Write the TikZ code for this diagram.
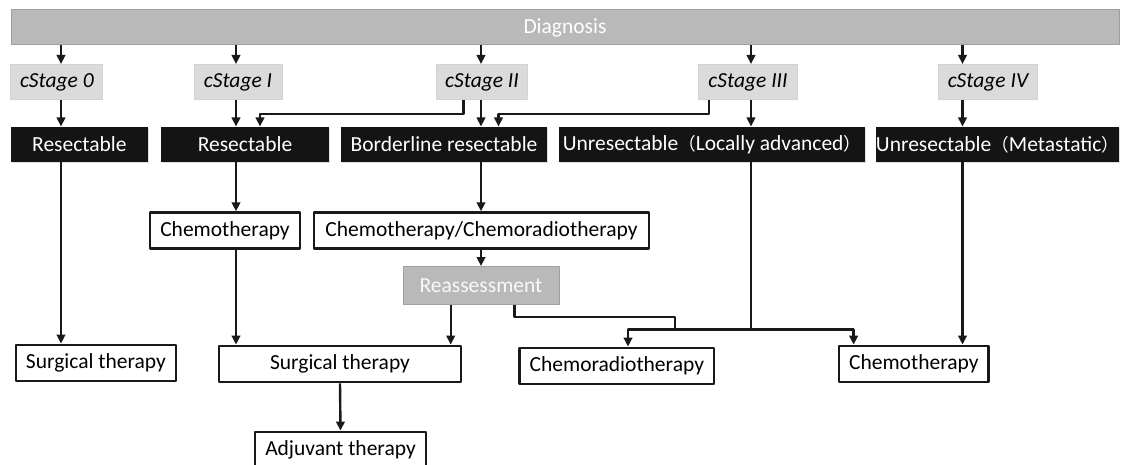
\documentclass[tikz,border=0pt]{standalone}
\usepackage{fontspec}
\setmainfont{Carlito}
\newfontfamily\cjk[Scale=0.82]{Noto Sans CJK JP}
\newcommand{\lpar}{{\cjk （}}
\newcommand{\rpar}{{\cjk ）}}
\usetikzlibrary{calc,arrows.meta,shadows}

\begin{document}
\begin{tikzpicture}[x=1pt,y=-1pt,>={Triangle[length=9pt,width=8.5pt]},line join=round,
  font=\fontsize{21.5}{25}\selectfont,
  bar/.style={draw=gray!75,fill=gray!55,text=white,line width=1pt,inner sep=0pt},
  stage/.style={draw=gray!35,fill=gray!28,line width=1pt,inner sep=0pt,minimum height=35pt,
    font=\fontsize{21.5}{25}\selectfont\itshape},
  blk/.style={fill=black!92,text=white,inner sep=0pt,minimum height=35.6pt,
    drop shadow={opacity=0.25,shadow xshift=1pt,shadow yshift=-1pt}},
  tbox/.style={draw=black!90,line width=2.8pt,fill=white,inner sep=0pt,minimum height=36pt},
  arr/.style={->,line width=2.4pt,black!90},
  link/.style={line width=2.4pt,black!90}]
  \useasboundingbox (0,0) rectangle (1121,465);

  % top bar and stages
  \node[bar,minimum width=1108pt,minimum height=35pt] (diag) at (565,27.5) {Diagnosis};
  \node[stage,minimum width=92pt]   (s0) at (56.9,82) {cStage 0};
  \node[stage,minimum width=88pt]   (s1) at (238,82) {cStage I};
  \node[stage,minimum width=90.5pt] (s2) at (482,82) {cStage II};
  \node[stage,minimum width=98.5pt] (s3) at (748,82) {cStage III};
  \node[stage,minimum width=99.5pt] (s4) at (988,82) {cStage IV};

  % resectability
  \node[blk,minimum width=137pt]   (r0)  at (79.4,144.5) {Resectable};
  \node[blk,minimum width=168pt]   (r1)  at (245,144.5) {Resectable};
  \node[blk,minimum width=206.5pt] (bl)  at (444,144.5) {Borderline resectable};
  \node[blk,minimum width=306pt]   (ula) at (712,144.5) {Unresectable\lpar Locally advanced\rpar};
  \node[blk,minimum width=241pt]   (um)  at (997.5,144.5) {Unresectable\lpar Metastatic\rpar};

  % treatment
  \node[tbox,minimum width=150pt] (ch1) at (225,230.7) {Chemotherapy};
  \node[tbox,minimum width=335pt] (ccr) at (481.5,230.7) {Chemotherapy/Chemoradiotherapy};
  \node[bar,minimum width=156pt,minimum height=37.5pt,text=white!95!gray] (re) at (481,285.3) {Reassessment};
  \node[tbox,minimum width=160pt]   (su0) at (95.9,363) {Surgical therapy};
  \node[tbox,minimum width=242pt]   (su1) at (340,364) {Surgical therapy};
  \node[tbox,minimum width=194.4pt] (crt) at (616.8,366) {Chemoradiotherapy};
  \node[tbox,minimum width=149.6pt] (chR) at (913.8,364) {Chemotherapy};
  \node[tbox,minimum width=171pt]   (adj) at (340.5,450) {Adjuvant therapy};

  % arrow columns
  \coordinate (c0) at (61,0);
  \coordinate (c1) at (236,0);
  \coordinate (c2) at (481,0);
  \coordinate (c3) at (751,0);
  \coordinate (c4) at (962.5,0);
  \coordinate (m1) at (450.7,0);
  \coordinate (k1) at (260,114);
  \coordinate (k2) at (463.5,114);
  \coordinate (k3) at (709,114);
  \coordinate (k4) at (498.5,114);
  \coordinate (rb) at (514.5,0);
  \coordinate (rj) at (675,316.7);
  \coordinate (j)  at (751,329.3);
  \coordinate (jl) at (628,0);
  \coordinate (jr) at (853.6,0);

  \foreach \s/\c in {s0/c0,s1/c1,s2/c2,s3/c3,s4/c4}
    \draw[arr] (diag.south -| \c) -- (\s.north -| \c);
  \draw[arr] (s0.south -| c0) -- (r0.north -| c0);
  \draw[arr] (s1.south -| c1) -- (r1.north -| c1);
  \draw[arr] (s2.south -| c2) -- (bl.north -| c2);
  \draw[arr] (s3.south -| c3) -- (ula.north -| c3);
  \draw[arr] (s4.south -| c4) -- (um.north -| c4);
  \draw[arr] (s2.south -| k2) -- (k2) -- (k1) -- (r1.north -| k1);
  \draw[arr] (s3.south -| k3) -- (k3) -- (k4) -- (bl.north -| k4);

  \draw[arr] (r0.south -| c0) -- (su0.north -| c0);
  \draw[arr] (r1.south -| c1) -- (ch1.north -| c1);
  \draw[arr] (ch1.south -| c1) -- (su1.north -| c1);
  \draw[arr] (bl.south -| c2) -- (ccr.north -| c2);
  \draw[arr] (ccr.south -| c2) -- (re.north -| c2);
  \draw[arr] (re.south -| m1) -- (su1.north -| m1);
  \draw[arr] (su1.south) -- (adj.north);

  \draw[link] (re.south -| rb) |- (rj) -- (rj |- j);
  \draw[link] (ula.south -| c3) -- (j);
  \draw[arr] (j) -| (crt.north -| jl);
  \draw[arr] (j) -| (chR.north -| jr);
  \draw[arr] (um.south -| c4) -- (chR.north -| c4);
\end{tikzpicture}
\end{document}
